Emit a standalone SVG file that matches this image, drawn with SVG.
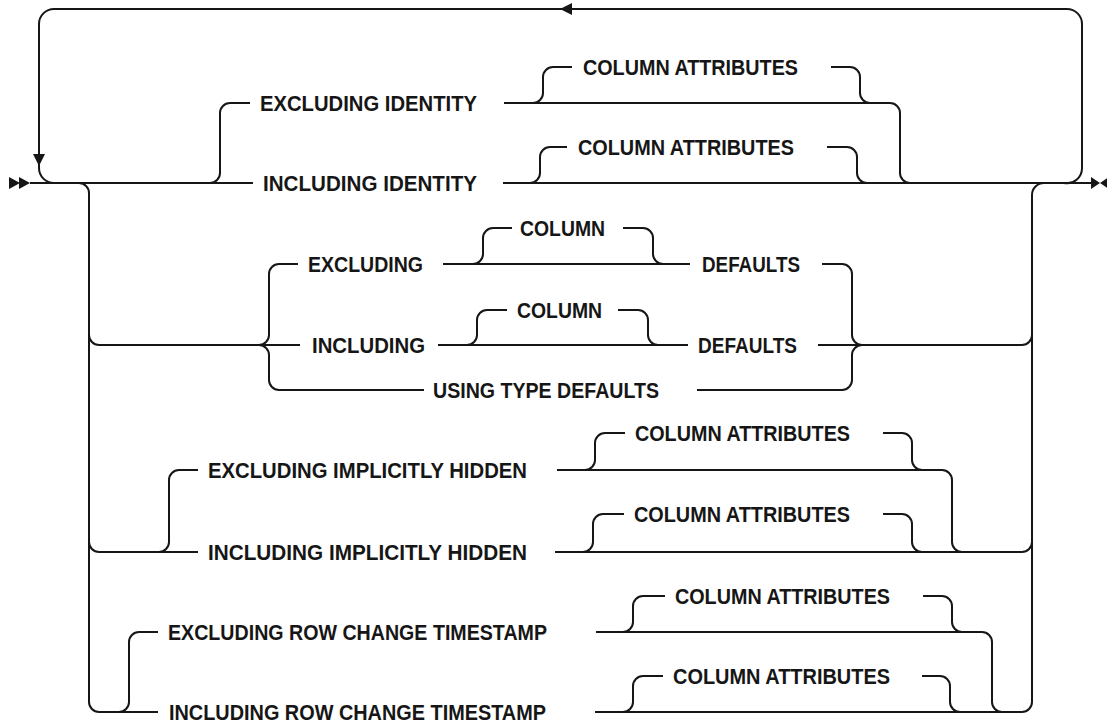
<svg xmlns="http://www.w3.org/2000/svg" width="1107" height="723" viewBox="0 0 1107 723">
<style>
.l{fill:none;stroke:#161616;stroke-width:2;stroke-linecap:butt;stroke-linejoin:round}
.a{fill:#161616;stroke:none}
text{font-family:"Liberation Sans",Arial,sans-serif;font-weight:bold;font-size:22.5px;fill:#161616}
</style>
<rect width="1107" height="723" fill="#ffffff"/>
<g id="connectors">
<!-- start / end markers -->
<polygon class="a" points="9,177 20,183 9,189"/>
<polygon class="a" points="19,177 30,183 19,189"/>
<polygon class="a" points="1091,177 1100,183 1091,189"/>
<polygon class="a" points="1109,177 1100,183 1109,189"/>
<!-- repeat loop -->
<path class="l" d="M1064,183 A15,15 0 0 0 1082,168 L1082,24 A15,15 0 0 0 1067,9 L54,9 A15,15 0 0 0 39,24 L39,168 A15,15 0 0 0 54,183"/>
<polygon class="a" points="33,154 45,154 39,166"/>
<polygon class="a" points="572,3 572,15 560,9"/>
<!-- main line -->
<path class="l" d="M30,183 L253,183"/>
<path class="l" d="M503,183 L1091,183"/>
<!-- identity group -->
<path class="l" d="M210,183 A10,10 0 0 0 220,173 L220,113 A10,10 0 0 1 230,103 L250,103"/>
<path class="l" d="M504,103 L890,103 A10,10 0 0 1 900,113 L900,173 A10,10 0 0 0 910,183"/>
<path class="l" d="M533,103 A10,10 0 0 0 543,93 L543,77 A10,10 0 0 1 553,67 L572,67"/>
<path class="l" d="M831,67 L850,67 A10,10 0 0 1 860,77 L860,93 A10,10 0 0 0 870,103"/>
<path class="l" d="M530,183 A10,10 0 0 0 540,173 L540,157 A10,10 0 0 1 550,147 L567,147"/>
<path class="l" d="M827,147 L847,147 A10,10 0 0 1 857,157 L857,173 A10,10 0 0 0 867,183"/>
<!-- big choice verticals -->
<path class="l" d="M79,183 A10,10 0 0 1 89,193 L89,702 A10,10 0 0 0 99,712 L158,712"/>
<path class="l" d="M1044,183 A12,12 0 0 0 1032,195 L1032,702 A10,10 0 0 1 1022,712 L960,712"/>
<!-- defaults group -->
<path class="l" d="M89,335 A10,10 0 0 0 99,345 L300,345"/>
<path class="l" d="M259,345 A10,10 0 0 0 269,335 L269,274 A10,10 0 0 1 279,264 L298,264"/>
<path class="l" d="M259,345 A10,10 0 0 1 269,355 L269,380 A10,10 0 0 0 279,390 L424,390"/>
<path class="l" d="M443,264 L690,264"/>
<path class="l" d="M473,264 A10,10 0 0 0 483,254 L483,238 A10,10 0 0 1 493,228 L512,228"/>
<path class="l" d="M623,228 L643,228 A10,10 0 0 1 653,238 L653,254 A10,10 0 0 0 663,264"/>
<path class="l" d="M438,345 L688,345"/>
<path class="l" d="M467,345 A10,10 0 0 0 477,335 L477,320 A10,10 0 0 1 487,310 L507,310"/>
<path class="l" d="M618,310 L638,310 A10,10 0 0 1 648,320 L648,335 A10,10 0 0 0 658,345"/>
<path class="l" d="M822,264 L842,264 A10,10 0 0 1 852,274 L852,335 A10,10 0 0 0 862,345"/>
<path class="l" d="M697,390 L842,390 A10,10 0 0 0 852,380 L852,355 A10,10 0 0 1 862,345"/>
<path class="l" d="M818,345 L1022,345 A10,10 0 0 0 1032,335"/>
<!-- implicitly hidden group -->
<path class="l" d="M89,542 A10,10 0 0 0 99,552 L198,552"/>
<path class="l" d="M159,552 A10,10 0 0 0 169,542 L169,480 A10,10 0 0 1 179,470 L198,470"/>
<path class="l" d="M557,470 L942,470 A10,10 0 0 1 952,480 L952,542 A10,10 0 0 0 962,552"/>
<path class="l" d="M585,470 A10,10 0 0 0 595,460 L595,443 A10,10 0 0 1 605,433 L625,433"/>
<path class="l" d="M883,433 L902,433 A10,10 0 0 1 912,443 L912,460 A10,10 0 0 0 922,470"/>
<path class="l" d="M555,552 L1022,552 A10,10 0 0 0 1032,542"/>
<path class="l" d="M583,552 A10,10 0 0 0 593,542 L593,524 A10,10 0 0 1 603,514 L624,514"/>
<path class="l" d="M883,514 L902,514 A10,10 0 0 1 912,524 L912,542 A10,10 0 0 0 922,552"/>
<!-- row change timestamp group -->
<path class="l" d="M119,712 A10,10 0 0 0 129,702 L129,642 A10,10 0 0 1 139,632 L158,632"/>
<path class="l" d="M596,632 L982,632 A10,10 0 0 1 992,642 L992,702 A10,10 0 0 0 1002,712"/>
<path class="l" d="M623,632 A10,10 0 0 0 633,622 L633,606 A10,10 0 0 1 643,596 L665,596"/>
<path class="l" d="M923,596 L942,596 A10,10 0 0 1 952,606 L952,622 A10,10 0 0 0 962,632"/>
<path class="l" d="M595,712 L960,712"/>
<path class="l" d="M623,712 A10,10 0 0 0 633,702 L633,686 A10,10 0 0 1 643,676 L663,676"/>
<path class="l" d="M922,676 L940,676 A10,10 0 0 1 950,686 L950,702 A10,10 0 0 0 960,712"/>
</g>
<g id="n-excl-identity"><text x="260" y="111" textLength="217" lengthAdjust="spacingAndGlyphs">EXCLUDING IDENTITY</text></g>
<g id="n-incl-identity"><text x="263" y="191" textLength="214" lengthAdjust="spacingAndGlyphs">INCLUDING IDENTITY</text></g>
<g id="n-colattr-1"><text x="583" y="75" textLength="215" lengthAdjust="spacingAndGlyphs">COLUMN ATTRIBUTES</text></g>
<g id="n-colattr-2"><text x="578" y="155" textLength="216" lengthAdjust="spacingAndGlyphs">COLUMN ATTRIBUTES</text></g>
<g id="n-excluding"><text x="308" y="272" textLength="115" lengthAdjust="spacingAndGlyphs">EXCLUDING</text></g>
<g id="n-column-1"><text x="520" y="236" textLength="85" lengthAdjust="spacingAndGlyphs">COLUMN</text></g>
<g id="n-defaults-1"><text x="702" y="272" textLength="98" lengthAdjust="spacingAndGlyphs">DEFAULTS</text></g>
<g id="n-including"><text x="312" y="353" textLength="113" lengthAdjust="spacingAndGlyphs">INCLUDING</text></g>
<g id="n-column-2"><text x="517" y="318" textLength="85" lengthAdjust="spacingAndGlyphs">COLUMN</text></g>
<g id="n-defaults-2"><text x="698" y="353" textLength="99" lengthAdjust="spacingAndGlyphs">DEFAULTS</text></g>
<g id="n-using-type-defaults"><text x="433" y="398" textLength="226" lengthAdjust="spacingAndGlyphs">USING TYPE DEFAULTS</text></g>
<g id="n-excl-hidden"><text x="208" y="478" textLength="319" lengthAdjust="spacingAndGlyphs">EXCLUDING IMPLICITLY HIDDEN</text></g>
<g id="n-colattr-3"><text x="635" y="441" textLength="215" lengthAdjust="spacingAndGlyphs">COLUMN ATTRIBUTES</text></g>
<g id="n-incl-hidden"><text x="208" y="560" textLength="319" lengthAdjust="spacingAndGlyphs">INCLUDING IMPLICITLY HIDDEN</text></g>
<g id="n-colattr-4"><text x="634" y="522" textLength="216" lengthAdjust="spacingAndGlyphs">COLUMN ATTRIBUTES</text></g>
<g id="n-excl-rct"><text x="168" y="640" textLength="379" lengthAdjust="spacingAndGlyphs">EXCLUDING ROW CHANGE TIMESTAMP</text></g>
<g id="n-colattr-5"><text x="675" y="604" textLength="215" lengthAdjust="spacingAndGlyphs">COLUMN ATTRIBUTES</text></g>
<g id="n-incl-rct"><text x="169" y="720" textLength="377" lengthAdjust="spacingAndGlyphs">INCLUDING ROW CHANGE TIMESTAMP</text></g>
<g id="n-colattr-6"><text x="673" y="684" textLength="217" lengthAdjust="spacingAndGlyphs">COLUMN ATTRIBUTES</text></g>
</svg>
